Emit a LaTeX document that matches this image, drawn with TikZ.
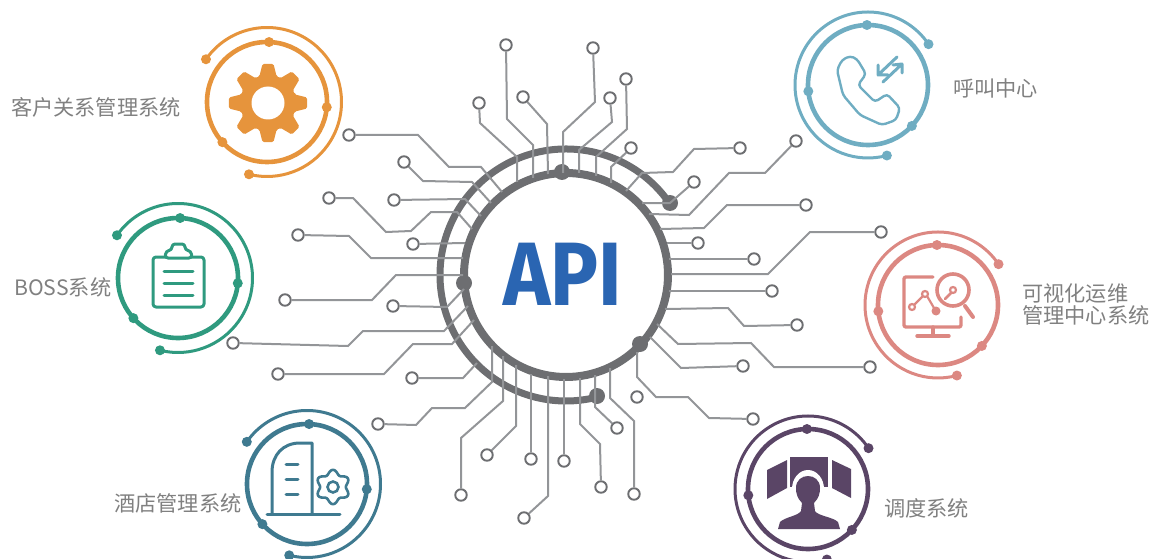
\documentclass[tikz,border=0pt]{standalone}
\usepackage{fontspec}
\setmainfont{Noto Sans CJK SC}
\newfontfamily\apifont[FakeStretch=0.89]{Fira Sans}
\usetikzlibrary{positioning}

\definecolor{ringgray}{HTML}{6D6E71}
\definecolor{tracegray}{HTML}{939598}
\definecolor{labelgray}{HTML}{808080}
\definecolor{apiblue}{HTML}{2A65B2}
\definecolor{crmcol}{HTML}{E6943C}
\definecolor{callcol}{HTML}{6FADC2}
\definecolor{bosscol}{HTML}{2F9A7F}
\definecolor{viewcol}{HTML}{DC8882}
\definecolor{hotelcol}{HTML}{3F7A90}
\definecolor{dispcol}{HTML}{5A4566}

\begin{document}
\begin{tikzpicture}[x=1pt, y=-1pt,
    pad/.style={circle, draw=ringgray, fill=white, line width=1.9pt, minimum size=11.5pt, inner sep=0pt},
    trace/.style={draw=tracegray, line width=2pt},
    dot/.style={circle, fill=#1, minimum size=10pt, inner sep=0pt},
    hubdot/.style={circle, fill=ringgray, minimum size=16pt, inner sep=0pt},
    caption/.style={anchor=west, text=labelgray, font=\fontsize{21.2}{21.5}\selectfont, align=left, inner sep=0pt},
    icon/.style={line width=3pt, line cap=round, line join=round}]

\useasboundingbox (0,0) rectangle (1157,559);

% Create the central rings
\draw [ringgray, line width=7pt, line cap=round] (566,275) ++(-35:126)
  arc [start angle=-35, end angle=-285, radius=126];
\node [circle, draw=ringgray, line width=8pt, minimum size=204pt, inner sep=0pt] (hub) at (566,275) {};
\foreach \n/\p in {a/{562,172}, b/{670,203}, c/{464,283}, d/{640,344}, e/{597,396}}
  \node [hubdot] (hubdot-\n) at (\p) {};
\node [text=apiblue, font=\apifont\fontsize{90}{90}\selectfont\bfseries, inner sep=0pt] (api) at (562.5,274) {API};

% Create the traces with their pads
\foreach \p/\r/\e [count=\m] in {
  {349,135}/{-- (418,135) -- (449,167) -- (481,167)}/{502,192},
  {404,162}/{-- (423,181) -- (472,182)}/{491,203},
  {329,198}/{-- (353,198) -- (386,232) -- (411,231) -- (431,212) -- (457,212)}/{472,229},
  {394,200}/{-- (465,199)}/{481,216},
  {298,235}/{-- (349,236) -- (371,258)}/{463,258},
  {413,244}/{}/{465,243},
  {479,103}/{-- (480,123) -- (517,157)}/{517,182},
  {506,45}/{-- (507,119) -- (533,145)}/{533,178},
  {523,97}/{-- (547,124)}/{548,174},
  {593,48}/{-- (595,102) -- (563,132)}/{563,173},
  {610,98}/{-- (612,122) -- (579,150)}/{579,173},
  {626,79}/{-- (627,129) -- (596,157)}/{596,176},
  {631,148}/{-- (611,167)}/{611,183},
  {740,148}/{-- (694,149) -- (673,172) -- (642,173)}/{626,191},
  {694,182}/{-- (670,203)}/{642,203},
  {796,141}/{-- (765,173) -- (729,173) -- (689,215)}/{649,214},
  {806,205}/{-- (727,205) -- (704,228)}/{660,229},
  {698,243}/{}/{667,243},
  {754,259}/{}/{669,259},
  {881,232}/{-- (810,232) -- (768,274)}/{671,274},
  {772,291}/{}/{669,291},
  {797,325}/{-- (744,326) -- (728,308)}/{665,309},
  {870,367}/{-- (774,367) -- (751,343) -- (678,344)}/{657,324},
  {743,366}/{-- (681,368)}/{650,337},
  {753,419}/{-- (709,418) -- (688,397) -- (656,397) -- (637,377)}/{637,352},
  {617,428}/{-- (595,407)}/{595,375},
  {634,494}/{-- (634,421) -- (610,398)}/{610,368},
  {601,487}/{-- (600,444) -- (580,424)}/{580,378},
  {564,461}/{}/{564,379},
  {524,518}/{-- (548,496)}/{548,376},
  {531,459}/{}/{531,374},
  {487,455}/{-- (516,426)}/{516,365},
  {461,495}/{-- (461,438) -- (503,401)}/{503,356},
  {378,424}/{-- (416,425) -- (432,408) -- (465,408) -- (492,382)}/{492,346},
  {412,378}/{-- (463,378)}/{477,363},
  {278,374}/{-- (384,374) -- (413,344) -- (452,344)}/{474,320},
  {233,343}/{-- (348,346) -- (363,331) -- (444,331)}/{468,306},
  {393,306}/{-- (447,307)}/{464,289},
  {285,300}/{-- (372,300) -- (396,275)}/{463,275}}
{
  \node [pad] (pad-\m) at (\p) {};
  \coordinate (end-\m) at (\e);
  \draw [trace] (pad-\m) \r -- (end-\m);
}
\node [pad] (pad-loose) at (637,397) {};

% Create the satellite rings
\foreach \s/\p/\col/\rad/\from/\to/\i/\j/\k in {
  crm/{267,102}/crmcol/74.5/215/464/272/5/138,
  boss/{178,278}/bosscol/74.5/215/464/272/5/138,
  hotel/{307,484}/hotelcol/73.5/215/464/272/5/138,
  call/{868,85}/callcol/73/326/75/269/174/43,
  view/{938,305}/viewcol/73/326/75/269/174/43,
  disp/{808,489}/dispcol/73/326/75/269/174/43}
{
  \coordinate (\s) at (\p);
  \draw [\col, line width=4.6pt] (\s) circle (60);
  \draw [\col, line width=3pt] (\s) ++(\from:\rad) arc [start angle=\from, end angle=\to, radius=\rad];
  \node [dot=\col] (\s-from) at ([shift={(\from:\rad)}]\s) {};
  \node [dot=\col] (\s-to) at ([shift={(\to:\rad)}]\s) {};
  \foreach \a/\n in {\i/i, \j/j, \k/k}
    \node [dot=\col] (\s-\n) at ([shift={(\a:60)}]\s) {};
}

% Gear icon
\fill [crmcol, even odd rule, rounded corners=1.5pt] (-18:28) ++(268,103)
  \foreach \a in {0,45,...,315} {
    -- ([shift={(268,103)}]\a-18:28) -- ([shift={(268,103)}]\a-8:39.5)
    -- ([shift={(268,103)}]\a+8:39.5) -- ([shift={(268,103)}]\a+18:28)
  } -- cycle;
\fill [white] (268,103) circle (16.5);

% Phone icon
\draw [callcol, icon, line width=2.4pt, rounded corners=3.5pt] (837,70) -- (842,60) -- (850,56) -- (857,59) -- (866,74)
  -- (858,85) -- (875,102) -- (887,94) -- (900,108) -- (896,120) -- (882,125) -- (860,115) -- (843,95) -- cycle;
\draw [callcol, icon, line width=3pt] (897,57) -- (878,75) -- (878,65) (878,75) -- (888,75);
\draw [callcol, icon, line width=3pt] (883,82) -- (902,64) -- (902,73) (902,64) -- (893,65);

% Clipboard icon
\draw [bosscol, icon, rounded corners=3pt] (153,257) rectangle (204,307);
\draw [bosscol, icon, fill=white, rounded corners=3pt] (165,258) -- (166,251) -- (172,250) -- (172,244)
  -- (185,244) -- (185,250) -- (191,251) -- (192,258) -- cycle;
\foreach \y in {271,283,295}
  \draw [bosscol, icon] (164,\y) -- (193,\y);

% Monitor icon
\draw [viewcol, icon, line width=3.4pt, rounded corners=2pt] (933,277) -- (904,277) -- (904,327) -- (961,327) -- (961,317);
\draw [viewcol, icon, line width=3.4pt] (933,327) -- (933,336) (917,336) -- (949,336);
\draw [viewcol, line width=3.6pt] (953,290) circle (16);
\draw [viewcol, icon, line width=4pt] (965,306) -- (973,317);
\draw [viewcol, line width=2.2pt] (953,290) circle (3) (912,307) circle (3) (925,294) circle (3);
\draw [viewcol, icon, line width=2.6pt] (951,293) -- (945,299);
\draw [viewcol, line width=2.2pt] (914,305) -- (923,296) (927,296) -- (934,308);
\fill [viewcol] (936,311) circle (4.5);

% Building icon
\draw [hotelcol, icon] (267,514) -- (340,514);
\draw [hotelcol, icon] (272,514) -- (272,472) .. controls (272,455) and (283,443) .. (300,443)
  -- (312,443) -- (312,514);
\foreach \y in {464,479,494}
  \draw [hotelcol, icon] (286,\y) -- (298,\y);
\draw [hotelcol, icon, line width=2.6pt] plot [smooth cycle, samples=60, domain=0:354]
  ([shift={(333,487)}]\x:{15+2.2*cos(6*\x-540)});
\draw [hotelcol, line width=2.6pt] (333,487) circle (5.5);

% Operator icon
\fill [dispcol] (767,470) -- (787,460) -- (787,488) -- (767,499) -- cycle;
\fill [dispcol] (832,460) -- (851,469) -- (851,498) -- (832,488) -- cycle;
\fill [dispcol] (790,457) rectangle (828,487);
\fill [white] (808,489) ellipse [x radius=16, y radius=19];
\fill [dispcol] (778,529) -- (780,522) .. controls (785,517) and (798,516) .. (801,511) -- (802,503)
  .. controls (797,498) and (796,493) .. (796,488) .. controls (796,480) and (802,476) .. (808,476)
  .. controls (814,476) and (820,480) .. (820,488) .. controls (820,493) and (819,498) .. (814,503)
  -- (815,511) .. controls (818,516) and (833,517) .. (838,522) -- (840,529) -- cycle;

% Label the satellites
\node [caption] (label-crm) at (11,107) {客户关系管理系统};
\node [caption] (label-call) at (953,88) {呼叫中心};
\node [caption] (label-boss) at (14,287) {BOSS系统};
\node [caption] (label-view) at (1022,304.5) {可视化运维\\管理中心系统};
\node [caption] (label-hotel) at (114,503) {酒店管理系统};
\node [caption] (label-disp) at (884,508) {调度系统};

\end{tikzpicture}
\end{document}
